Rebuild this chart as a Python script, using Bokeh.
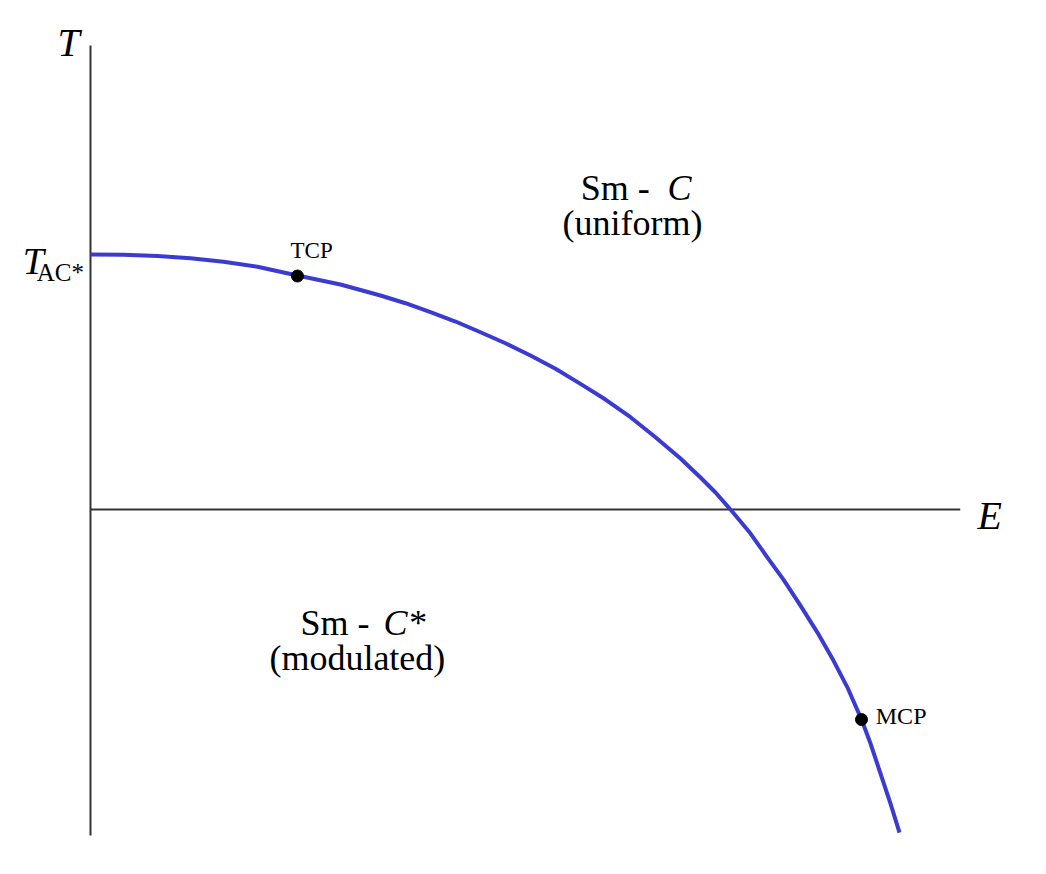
from bokeh.plotting import figure
from bokeh.models import Range1d
from bokeh.core.properties import value
from bokeh.embed import file_html
from bokeh.resources import INLINE

# Phase boundary (E, T); T in units of T_AC*, E in units of zero-crossing field
curve_E = [0.0, 0.0516, 0.1047, 0.1563, 0.2078, 0.2609, 0.3234, 0.3906, 0.4531, 0.4922,
           0.5313, 0.5703, 0.6094, 0.6484, 0.6875, 0.7266, 0.7656, 0.8047, 0.8438, 0.8828,
           0.9219, 0.9531, 0.9766, 1.0, 1.0313, 1.0578, 1.0828, 1.1094, 1.1359, 1.1609,
           1.1828, 1.2047, 1.2188, 1.2344, 1.2500, 1.2641]
curve_T = [1.0, 0.9988, 0.9941, 0.9851, 0.9714, 0.9518, 0.9176, 0.8824, 0.8392, 0.8090,
           0.7737, 0.7373, 0.6953, 0.6522, 0.6039, 0.5518, 0.4929, 0.4314, 0.3620, 0.2835,
           0.2, 0.1255, 0.0667, 0.0, -0.0941, -0.1882, -0.2745, -0.3765, -0.4824, -0.5922,
           -0.6980, -0.8235, -0.9176, -1.0353, -1.1529, -1.2667]

point_E = [0.3234, 1.2047]
point_T = [0.9157, -0.8235]
point_names = ["TCP", "MCP"]

# axes extents
axis_T = [-1.278, 1.82]
axis_E = [0.0, 1.359]

BLUE = "#3b3bd2"
SERIF = "Liberation Serif"

p = figure(width=1046, height=874, output_backend="svg", toolbar_location=None,
           x_range=Range1d(-0.1406, 1.49375), y_range=Range1d(-1.431, 1.996),
           min_border=0, outline_line_color=None)
p.axis.visible = False
p.grid.visible = False
p.background_fill_color = "white"
p.border_fill_color = "white"

# axes lines
p.line(x=[0, 0], y=axis_T, line_color="#333333", line_width=2)
p.line(x=axis_E, y=[0, 0], line_color="#333333", line_width=2)

# phase boundary
p.line(x=curve_E, y=curve_T, line_color=BLUE, line_width=4, line_join="round")
p.scatter(x=point_E, y=point_T, size=12, fill_color="black", line_color="black")

def txt(x, y, s, size, style="normal", align="left"):
    p.text(x=[x], y=[y], text=[s], text_font=value(SERIF), text_font_size=size,
           text_font_style=style, text_align=align, text_baseline="alphabetic",
           text_color="black")

# axis labels
txt(-0.0516, 1.831, "T", "40px", "italic")
txt(1.386, -0.024, "E", "40px", "italic")
txt(-0.106, 0.976, "T", "38px", "italic")
txt(-0.084, 0.929, "AC*", "25px")

# point labels
txt(0.3125, 1.015, point_names[0], "23px")
txt(1.227, -0.808, point_names[1], "24px")

# region labels
txt(0.766, 1.259, "Sm  - ", "36px")
txt(0.9016, 1.259, "C", "36px", "italic")
txt(0.847, 1.125, "(uniform)", "36px", align="center")
txt(0.328, -0.443, "Sm  - ", "36px")
txt(0.458, -0.443, "C*", "36px", "italic")
txt(0.417, -0.584, "(modulated)", "36px", align="center")

open("out.html", "w").write(file_html(p, INLINE))
